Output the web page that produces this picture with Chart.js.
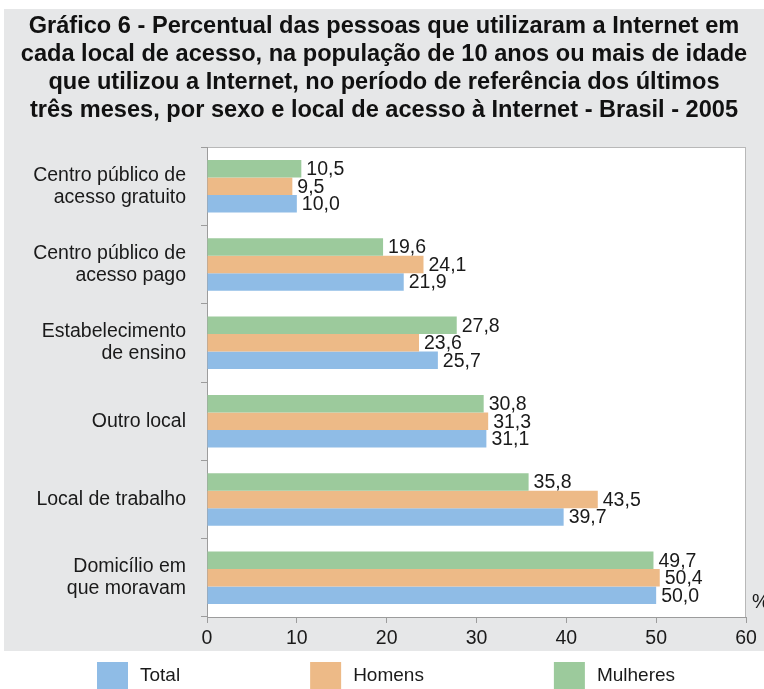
<!DOCTYPE html>
<html lang="pt-BR">
<head>
<meta charset="utf-8">
<title>Gráfico 6 - Internet 2005</title>
<script src="https://cdn.jsdelivr.net/npm/chart.js@4.4.1/dist/chart.umd.min.js"></script>
<style>
  html, body { margin: 0; padding: 0; background: #ffffff; }
  #grafico { display: block; }
</style>
</head>
<body>
<canvas id="grafico" width="764" height="689"></canvas>
<script>
// Dados (%)
const categorias = [
    ['Centro público de', 'acesso gratuito'],
    ['Centro público de', 'acesso pago'],
    ['Estabelecimento', 'de ensino'],
    'Outro local',
    'Local de trabalho',
    ['Domicílio em', 'que moravam']
];
const total = [10.0, 21.9, 25.7, 31.1, 39.7, 50.0];
const homens = [9.5, 24.1, 23.6, 31.3, 43.5, 50.4];
const mulheres = [10.5, 19.6, 27.8, 30.8, 35.8, 49.7];
const ticksX = [0, 10, 20, 30, 40, 50, 60];

const titulo = [
    'Gráfico 6 - Percentual das pessoas que utilizaram a Internet em',
    'cada local de acesso, na população de 10 anos ou mais de idade',
    'que utilizou a Internet, no período de referência dos últimos',
    'três meses, por sexo e local de acesso à Internet - Brasil - 2005'
];

const FONTE = "'Liberation Sans', Arial, Helvetica, sans-serif";
const COR_TEXTO = '#1a1a1a';
const COR_EIXO = '#9c9c9c';

function formatar(v) {
    return v.toFixed(1).replace('.', ',');
}

// fundo cinza do quadro + área branca do gráfico
const fundoPlugin = {
    id: 'fundo',
    beforeDraw(chart) {
        const ctx = chart.ctx;
        const a = chart.chartArea;
        ctx.save();
        ctx.fillStyle = '#ffffff';
        ctx.fillRect(0, 0, chart.width, chart.height);
        ctx.fillStyle = '#e6e7e8';
        ctx.fillRect(4, 9, chart.width - 4, 642);
        ctx.fillStyle = '#ffffff';
        ctx.fillRect(a.left, a.top, a.right - a.left, a.bottom - a.top);
        ctx.strokeStyle = '#b8b8b8';
        ctx.lineWidth = 1;
        ctx.strokeRect(a.left + 0.5, a.top + 0.5, a.right - a.left - 1, a.bottom - a.top);
        ctx.restore();
    }
};

// rótulos de valor ao fim de cada barra e o símbolo %
const rotulosPlugin = {
    id: 'rotulos',
    afterDatasetsDraw(chart) {
        const ctx = chart.ctx;
        ctx.save();
        ctx.font = '19.5px ' + FONTE;
        ctx.fillStyle = COR_TEXTO;
        ctx.textBaseline = 'middle';
        ctx.textAlign = 'left';
        chart.data.datasets.forEach(function(ds, i) {
            const meta = chart.getDatasetMeta(i);
            meta.data.forEach(function(bar, j) {
                ctx.fillText(formatar(ds.data[j]), bar.x + 5, bar.y + 1);
            });
        });
        const a = chart.chartArea;
        ctx.fillText('%', a.right + 6, a.bottom - 14);
        ctx.restore();
    }
};

// legenda embaixo, fora do quadro cinza
const legendaPlugin = {
    id: 'legendaBaixo',
    afterDraw(chart) {
        const ctx = chart.ctx;
        const itens = chart.data.datasets.slice().reverse();
        let x = 97;
        const y = 662;
        ctx.save();
        ctx.font = '19px ' + FONTE;
        ctx.textBaseline = 'middle';
        itens.forEach(function(ds) {
            ctx.fillStyle = ds.backgroundColor;
            ctx.fillRect(x, y, 31, 27);
            ctx.fillStyle = COR_TEXTO;
            ctx.fillText(ds.label, x + 43, y + 14);
            x += 31 + 12 + ctx.measureText(ds.label).width + 130;
        });
        ctx.restore();
    }
};

new Chart(document.getElementById('grafico'), {
    type: 'bar',
    data: {
        labels: categorias,
        datasets: [
            { label: 'Mulheres', data: mulheres, backgroundColor: '#9cca9c' },
            { label: 'Homens', data: homens, backgroundColor: '#edba87' },
            { label: 'Total', data: total, backgroundColor: '#8fbce6' }
        ]
    },
    options: {
        indexAxis: 'y',
        responsive: false,
        animation: false,
        devicePixelRatio: 1,
        datasets: {
            bar: { categoryPercentage: 0.67, barPercentage: 1.0, borderWidth: 0 }
        },
        layout: { padding: { left: 4, right: 0, top: 0, bottom: 38 } },
        plugins: {
            legend: { display: false },
            tooltip: { enabled: false },
            title: {
                display: true,
                text: titulo,
                color: '#111111',
                font: { family: FONTE, size: 23.6, weight: 'bold', lineHeight: 28 / 23.6 },
                padding: { top: 12, bottom: 23 }
            }
        },
        scales: {
            y: {
                offset: true,
                grid: { offset: true, drawOnChartArea: false, tickLength: 6, color: COR_EIXO },
                border: { display: true, color: COR_EIXO },
                ticks: {
                    padding: 15,
                    color: COR_TEXTO,
                    font: { family: FONTE, size: 19.5, lineHeight: 22 / 19.5 }
                },
                afterFit(scale) { scale.width = 203; }
            },
            y2: {
                type: 'linear',
                position: 'right',
                display: true,
                grid: { display: false },
                border: { display: false },
                ticks: { display: false },
                afterFit(scale) { scale.width = 18; }
            },
            x: {
                min: ticksX[0],
                max: ticksX[ticksX.length - 1],
                afterBuildTicks(scale) {
                    scale.ticks = ticksX.map(function(v) { return { value: v }; });
                },
                grid: { drawOnChartArea: false, tickLength: 6, color: COR_EIXO },
                border: { display: true, color: COR_EIXO },
                ticks: {
                    padding: 4,
                    color: COR_TEXTO,
                    font: { family: FONTE, size: 19.5 }
                },
                afterFit(scale) { scale.height = 34; }
            }
        }
    },
    plugins: [fundoPlugin, rotulosPlugin, legendaPlugin]
});
</script>
</body>
</html>
